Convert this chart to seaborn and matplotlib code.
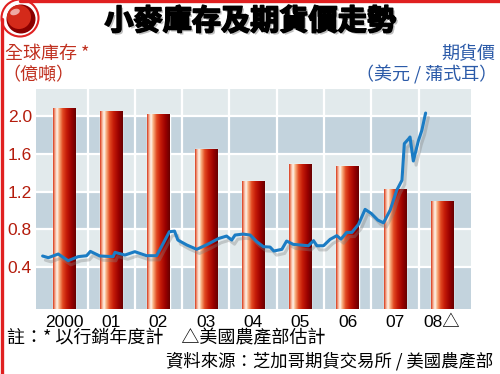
import numpy as np
import pandas as pd
import matplotlib
matplotlib.use("Agg")
import matplotlib.pyplot as plt
import matplotlib.patheffects as pe
from matplotlib.colors import LinearSegmentedColormap
from matplotlib.patches import Circle, Ellipse
from matplotlib.lines import Line2D
import seaborn as sns

# --- datos ---
AÑOS = ["2000", "01", "02", "03", "04", "05", "06", "07", "08△"]
INVENTARIO = [2.08, 2.05, 2.02, 1.65, 1.31, 1.49, 1.47, 1.22, 1.09]   # 億噸

PRECIO_T = [1999.55, 1999.67, 1999.88, 2000.09, 2000.30, 2000.48, 2000.56, 2000.76,
            2001.04, 2001.08, 2001.29, 2001.50, 2001.75, 2001.96, 2002.10, 2002.23,
            2002.34, 2002.41, 2002.60, 2002.81, 2003.05, 2003.27, 2003.44, 2003.55,
            2003.62, 2003.79, 2003.94, 2004.08, 2004.22, 2004.36, 2004.44, 2004.61,
            2004.71, 2004.85, 2005.17, 2005.28, 2005.35, 2005.49, 2005.63, 2005.77,
            2005.86, 2005.98, 2006.09, 2006.23, 2006.37, 2006.50, 2006.64, 2006.76,
            2006.90, 2007.04, 2007.15, 2007.20, 2007.29, 2007.32, 2007.39, 2007.50,
            2007.57, 2007.65]
PRECIO = [0.514, 0.496, 0.535, 0.464, 0.507, 0.517, 0.563, 0.514,
          0.507, 0.553, 0.524, 0.560, 0.517, 0.517, 0.648, 0.772,
          0.779, 0.684, 0.631, 0.585, 0.641, 0.700, 0.726, 0.684,
          0.737, 0.747, 0.737, 0.666, 0.613, 0.609, 0.567, 0.585,
          0.673, 0.638, 0.623, 0.677, 0.623, 0.623, 0.691, 0.730,
          0.694, 0.765, 0.765, 0.850, 1.010, 0.967, 0.896, 0.867,
          1.002, 1.214, 1.320, 1.710, 1.760, 1.780, 1.525, 1.745,
          1.850, 2.035]

YTICKS = [0.4, 0.8, 1.2, 1.6, 2.0]

CJK = ["Noto Sans CJK TC", "DejaVu Sans"]
ROJO = "#e02020"

sns.set_style("white")
plt.rcParams["font.family"] = ["Liberation Sans", "Noto Sans CJK TC", "DejaVu Sans"]

fig = plt.figure(figsize=(5, 3.74), dpi=100)
ax = fig.add_axes([0.072, 0.1738, 0.870, 0.588])

YMIN, YMAX = -0.05, 2.29
XMIN, XMAX = -0.59, 8.61

# fondo con franjas (claro / oscuro cada 0.4)
ax.set_facecolor("#e2eaec")
for lo, hi in [(YMIN, 0.4), (0.8, 1.2), (1.6, 2.0)]:
    ax.fill_between([XMIN, XMAX], lo, hi, color="#c3d3dd", zorder=0.5, lw=0)
for y in YTICKS:
    ax.axhline(y, color="white", lw=1.6, zorder=1)
for x in np.arange(0.5, 8, 1):
    ax.axvline(x, color="white", lw=1.6, zorder=1)

# barras
df = pd.DataFrame({"año": AÑOS, "inventario": INVENTARIO})
sns.barplot(data=df, x="año", y="inventario", width=0.47, color="#c01808",
            ax=ax, zorder=2)

cmap_barra = LinearSegmentedColormap.from_list("barra", [
    (0.0, "#d83a1e"), (0.08, "#f4a88a"), (0.17, "#fff6ef"), (0.27, "#f8b080"),
    (0.42, "#e24a22"), (0.60, "#c41a08"), (0.82, "#980000"), (1.0, "#680000")])
grad = np.linspace(0, 1, 64).reshape(1, -1)
for p in ax.containers[0].patches:
    x0, w, h = p.get_x(), p.get_width(), p.get_height()
    p.set_y(YMIN)
    p.set_height(h - YMIN)
    ax.imshow(grad, extent=[x0, x0 + w, YMIN, h], aspect="auto", cmap=cmap_barra,
              zorder=2.5, interpolation="bilinear")

# línea de precios
sns.lineplot(x=np.array(PRECIO_T) - 2000, y=PRECIO, color="#1b7cc4", lw=2.2,
             ax=ax, zorder=4,
             path_effects=[pe.SimpleLineShadow(offset=(2, -3), shadow_color="gray", alpha=0.35),
                           pe.Normal()])

ax.set_xlim(XMIN, XMAX)
ax.set_ylim(YMIN, YMAX)
ax.set_yticks(YTICKS)
ax.set_yticklabels([f"{v:.1f}" for v in YTICKS], color="#b41c0c", fontsize=12.5)
ax.set_xticks(range(len(AÑOS)))
ax.set_xticklabels(AÑOS, fontsize=12.5, color="black")
ax.tick_params(axis="both", length=0)
ax.tick_params(axis="x", pad=4)
ax.tick_params(axis="y", pad=3)
ax.set_xlabel("")
ax.set_ylabel("")
for s in ax.spines.values():
    s.set_visible(False)

# títulos y rótulos
H = 374.0
fig.text(0.5, 1 - 21 / H, "小麥庫存及期貨價走勢", ha="center", va="center",
         fontsize=21, weight="bold", family=CJK, color="black",
         path_effects=[pe.SimplePatchShadow(offset=(1.5, -1.5), shadow_rgbFace="gray", alpha=0.5),
                       pe.Stroke(linewidth=1.2, foreground="black"), pe.Normal()])
fig.text(5 / 500, 1 - 54 / H, "全球庫存 *", ha="left", va="center", color="#c0301f",
         fontsize=13, family=CJK)
fig.text(2 / 500, 1 - 75 / H, "（億噸）", ha="left", va="center", color="#c0301f",
         fontsize=13, family=CJK)
fig.text(495 / 500, 1 - 54 / H, "期貨價", ha="right", va="center", color="#2b5aa8",
         fontsize=13, family=CJK)
fig.text(497 / 500, 1 - 75 / H, "（美元 / 蒲式耳）", ha="right", va="center",
         color="#2b5aa8", fontsize=13, family=CJK)
fig.text(7 / 500, 1 - 338 / H, "註：* 以行銷年度計　△美國農產部估計", ha="left",
         va="center", fontsize=13, family=CJK, color="black")
fig.text(493 / 500, 1 - 361 / H, "資料來源：芝加哥期貨交易所 / 美國農產部", ha="right",
         va="center", fontsize=12.5, family=CJK, color="black")

# marco rojo y bola
fig.add_artist(Line2D([0.004, 0.004], [0, 0.95], transform=fig.transFigure,
                      color=ROJO, lw=2.4))
fig.add_artist(Line2D([0.04, 1], [0.996, 0.996], transform=fig.transFigure,
                      color=ROJO, lw=2.4))
tr = fig.dpi_scale_trans
cx, cy = 0.20, 3.74 - 0.18
fig.add_artist(Circle((cx, cy), 0.185, transform=tr, facecolor="white",
                      edgecolor=ROJO, lw=1.5))
fig.add_artist(Circle((cx + 0.01, cy - 0.01), 0.145, transform=tr, facecolor="#8a0000",
                      edgecolor="none"))
fig.add_artist(Circle((cx - 0.01, cy + 0.01), 0.12, transform=tr, facecolor="#d42a1a",
                      edgecolor="none"))
fig.add_artist(Ellipse((cx - 0.05, cy + 0.06), 0.1, 0.06, angle=20, transform=tr,
                       facecolor="white", alpha=0.6, edgecolor="none"))

fig.savefig("out.png", dpi=100)
